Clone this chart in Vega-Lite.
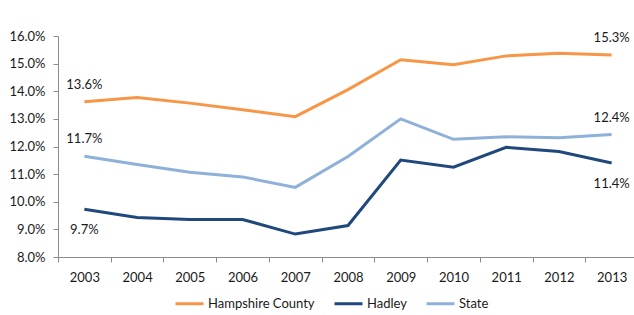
{
  "$schema": "https://vega.github.io/schema/vega-lite/v6.json",
  "width": 580,
  "height": 221,
  "autosize": {"type": "none"},
  "padding": {"left": 58, "top": 36, "right": 0, "bottom": 58},
  "background": "white",
  "config": {
    "view": {"stroke": null},
    "font": "Lato",
    "axis": {"labelFont": "Lato", "labelFontSize": 13, "labelColor": "#1a1a1a", "domainColor": "#8c8c8c", "tickColor": "#8c8c8c", "grid": false, "title": null}
  },
  "data": {
    "values": [
      {"year": "2003", "series": "Hampshire County", "rate": 0.1362},
      {"year": "2004", "series": "Hampshire County", "rate": 0.1377},
      {"year": "2005", "series": "Hampshire County", "rate": 0.1357},
      {"year": "2006", "series": "Hampshire County", "rate": 0.1333},
      {"year": "2007", "series": "Hampshire County", "rate": 0.1308},
      {"year": "2008", "series": "Hampshire County", "rate": 0.1406},
      {"year": "2009", "series": "Hampshire County", "rate": 0.1514},
      {"year": "2010", "series": "Hampshire County", "rate": 0.1496},
      {"year": "2011", "series": "Hampshire County", "rate": 0.1528},
      {"year": "2012", "series": "Hampshire County", "rate": 0.1538},
      {"year": "2013", "series": "Hampshire County", "rate": 0.1531},
      {"year": "2003", "series": "Hadley", "rate": 0.0973},
      {"year": "2004", "series": "Hadley", "rate": 0.0943},
      {"year": "2005", "series": "Hadley", "rate": 0.0936},
      {"year": "2006", "series": "Hadley", "rate": 0.0936},
      {"year": "2007", "series": "Hadley", "rate": 0.0883},
      {"year": "2008", "series": "Hadley", "rate": 0.0914},
      {"year": "2009", "series": "Hadley", "rate": 0.1151},
      {"year": "2010", "series": "Hadley", "rate": 0.1125},
      {"year": "2011", "series": "Hadley", "rate": 0.1197},
      {"year": "2012", "series": "Hadley", "rate": 0.1182},
      {"year": "2013", "series": "Hadley", "rate": 0.1140},
      {"year": "2003", "series": "State", "rate": 0.1165},
      {"year": "2004", "series": "State", "rate": 0.1135},
      {"year": "2005", "series": "State", "rate": 0.1107},
      {"year": "2006", "series": "State", "rate": 0.1090},
      {"year": "2007", "series": "State", "rate": 0.1052},
      {"year": "2008", "series": "State", "rate": 0.1164},
      {"year": "2009", "series": "State", "rate": 0.1300},
      {"year": "2010", "series": "State", "rate": 0.1226},
      {"year": "2011", "series": "State", "rate": 0.1235},
      {"year": "2012", "series": "State", "rate": 0.1232},
      {"year": "2013", "series": "State", "rate": 0.1243}
    ]
  },
  "encoding": {
    "x": {
      "field": "year", "type": "ordinal", "bandPosition": 0.5,
      "scale": {"type": "band", "paddingInner": 0, "paddingOuter": 0},
      "axis": {"labelAngle": 0, "tickBand": "extent", "tickSize": 5, "labelPadding": 9}
    },
    "y": {
      "field": "rate", "type": "quantitative",
      "scale": {"domain": [0.08, 0.16], "nice": false, "zero": false},
      "axis": {"format": ".1%", "values": [0.08, 0.09, 0.10, 0.11, 0.12, 0.13, 0.14, 0.15, 0.16], "tickSize": 5, "labelPadding": 8}
    }
  },
  "layer": [
    {
      "mark": {"type": "line", "strokeWidth": 3},
      "encoding": {
        "color": {
          "field": "series", "type": "nominal",
          "scale": {"domain": ["Hampshire County", "Hadley", "State"], "range": ["#F79646", "#1F497D", "#8EB1DA"]},
          "sort": ["Hampshire County", "Hadley", "State"],
          "legend": {
            "title": null, "orient": "none", "direction": "horizontal",
            "legendX": 116, "legendY": 252,
            "symbolType": "stroke", "symbolSize": 784, "symbolStrokeWidth": 3,
            "labelFont": "Lato", "labelFontSize": 13, "labelColor": "#1a1a1a",
            "columnPadding": 13, "labelOffset": 3
          }
        }
      }
    },
    {
      "transform": [
        {"filter": "(datum.year == '2003' || datum.year == '2013') && datum.series != 'Hadley'"}
      ],
      "mark": {"type": "text", "dy": -17, "fontSize": 13, "font": "Lato", "color": "#1a1a1a"},
      "encoding": {"text": {"field": "rate", "type": "quantitative", "format": ".1%"}}
    },
    {
      "transform": [
        {"filter": "(datum.year == '2003' || datum.year == '2013') && datum.series == 'Hadley'"}
      ],
      "mark": {"type": "text", "dy": 21, "fontSize": 13, "font": "Lato", "color": "#1a1a1a"},
      "encoding": {"text": {"field": "rate", "type": "quantitative", "format": ".1%"}}
    }
  ]
}
